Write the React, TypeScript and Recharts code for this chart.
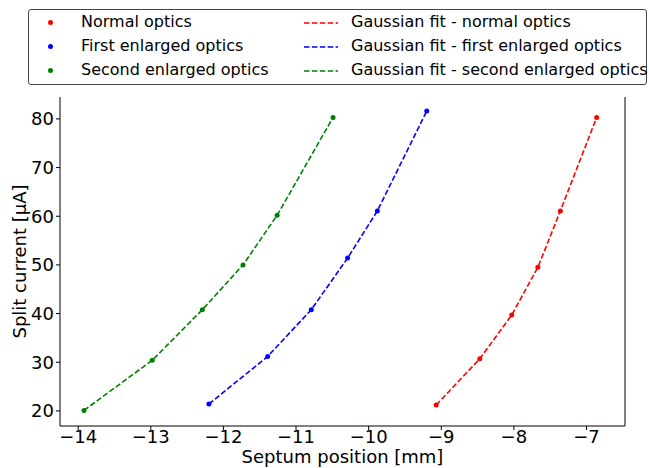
import React from 'react';
import { LineChart, Line, XAxis, YAxis } from 'recharts';

const normalX = [-9.07, -8.47, -8.03, -7.67, -7.36, -6.86];
const normalY = [21.2, 30.7, 39.7, 49.5, 61.1, 80.3];
const firstX = [-12.2, -11.39, -10.79, -10.29, -9.88, -9.2];
const firstY = [21.4, 31.2, 40.8, 51.4, 61.1, 81.6];
const secondX = [-13.92, -12.98, -12.29, -11.73, -11.26, -10.49];
const secondY = [20.1, 30.4, 40.8, 50.0, 60.2, 80.3];

const xTicks = [-14, -13, -12, -11, -10, -9, -8, -7];
const yTicks = [20, 30, 40, 50, 60, 70, 80];

const toPoints = (xs: number[], ys: number[]) => xs.map((x, i) => ({ x, y: ys[i] }));

const series = [
  { name: 'Normal optics', fit: 'Gaussian fit - normal optics', color: '#ff0000', data: toPoints(normalX, normalY) },
  { name: 'First enlarged optics', fit: 'Gaussian fit - first enlarged optics', color: '#0000ff', data: toPoints(firstX, firstY) },
  { name: 'Second enlarged optics', fit: 'Gaussian fit - second enlarged optics', color: '#008000', data: toPoints(secondX, secondY) },
];

const font = '"DejaVu Sans", sans-serif';

export default function App() {
  return (
    <div style={{ position: 'absolute', left: 0, top: 0, width: 649, height: 468, background: '#fff', fontFamily: font }}>
      <LineChart width={649} height={468} margin={{ top: 97, right: 0, bottom: 0, left: 0 }}>
        <XAxis
          dataKey="x"
          type="number"
          domain={[-14.25, -6.47]}
          ticks={xTicks}
          allowDataOverflow
          height={42}
          tickSize={4}
          tickMargin={0}
          stroke="#000"
          tick={{ fill: '#000', fontSize: 18, fontFamily: font }}
          tickFormatter={(v: number) => String(v).replace('-', '\u2212')}
          label={{ value: 'Septum position [mm]', position: 'insideBottom', offset: 5, style: { fill: '#000', fontSize: 18, fontFamily: font } }}
        />
        <XAxis xAxisId="top" orientation="top" type="number" domain={[-14.25, -6.47]} height={0} tick={false} tickLine={false} stroke="#000" />
        <YAxis
          dataKey="y"
          type="number"
          domain={[16.9, 84.5]}
          ticks={yTicks}
          allowDataOverflow
          width={60}
          tickSize={4}
          stroke="#000"
          tick={{ fill: '#000', fontSize: 18, fontFamily: font }}
          label={{ value: 'Split current [\u03bcA]', angle: -90, position: 'insideLeft', offset: 20, style: { fill: '#000', fontSize: 18, fontFamily: font, textAnchor: 'middle' } }}
        />
        <YAxis yAxisId="right" orientation="right" type="number" domain={[16.9, 84.5]} width={24} tick={false} tickLine={false} stroke="#000" />
        {series.map((s) => (
          <Line
            key={s.name}
            data={s.data}
            dataKey="y"
            type="linear"
            stroke={s.color}
            strokeWidth={1.6}
            strokeDasharray="5.5 2.4"
            dot={{ r: 2.5, fill: s.color, stroke: s.color, strokeWidth: 0 }}
            isAnimationActive={false}
          />
        ))}
      </LineChart>
      <div
        style={{
          position: 'absolute',
          left: 28,
          top: 9,
          width: 619,
          height: 76,
          boxSizing: 'border-box',
          border: '1px solid #444',
          borderRadius: 3,
          background: '#fff',
          fontSize: 16,
          color: '#000',
        }}
      >
        {series.map((s, i) => (
          <React.Fragment key={s.name}>
            <div style={{ position: 'absolute', left: 19, top: 10 + i * 24, width: 5, height: 5, borderRadius: '50%', background: s.color }} />
            <div style={{ position: 'absolute', left: 52, top: 2 + i * 24, lineHeight: '20px', whiteSpace: 'nowrap' }}>{s.name}</div>
            <svg style={{ position: 'absolute', left: 275, top: 4 + i * 24 }} width={36} height={20}>
              <line x1={0} y1={9} x2={34} y2={9} stroke={s.color} strokeWidth={1.5} strokeDasharray="5.5 2.4" />
            </svg>
            <div style={{ position: 'absolute', left: 322, top: 2 + i * 24, lineHeight: '20px', whiteSpace: 'nowrap' }}>{s.fit}</div>
          </React.Fragment>
        ))}
      </div>
    </div>
  );
}
